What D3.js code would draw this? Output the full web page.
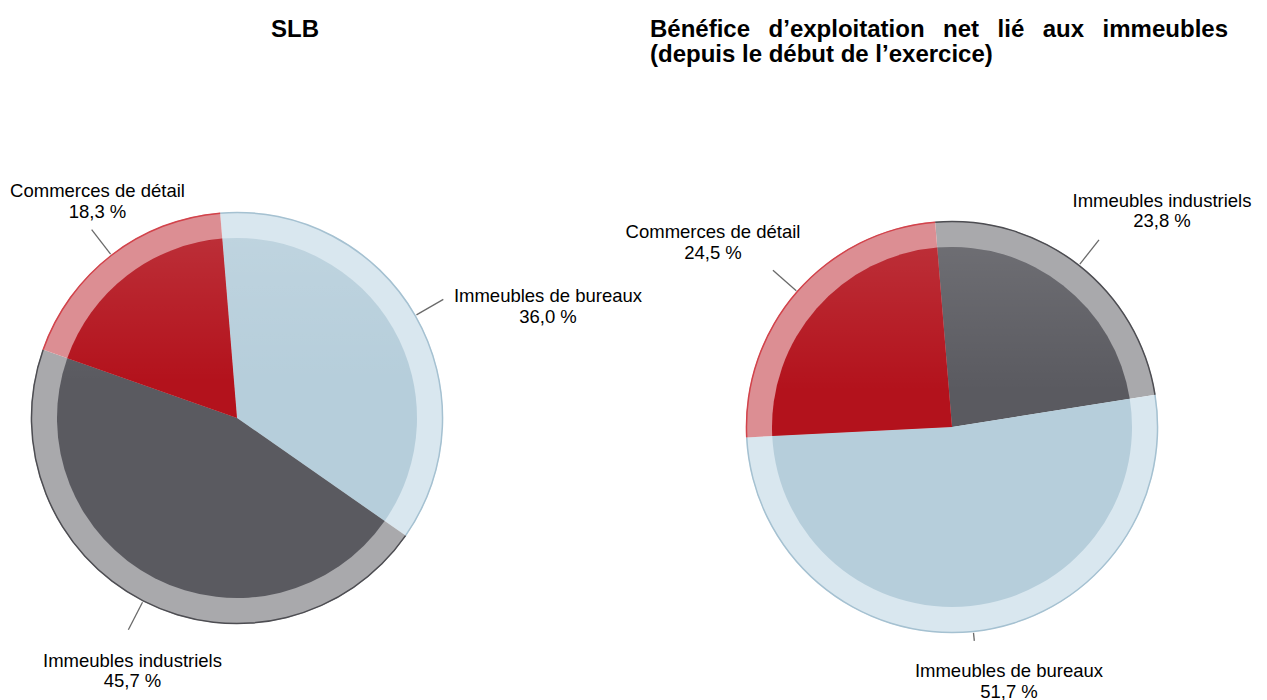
<!DOCTYPE html>
<html><head><meta charset="utf-8">
<script src="https://cdn.jsdelivr.net/npm/d3@7"></script>
<style>
body{margin:0;background:#fff}
text{font-family:"Liberation Sans",Arial,Helvetica,sans-serif;fill:#000}
</style>
</head><body>
<svg id="chart" width="1267" height="700"></svg>
<script>
// ---- data ----
const leftTitle = "SLB";
const rightTitleLines = ["Bénéfice d’exploitation net lié aux immeubles", "(depuis le début de l’exercice)"];

const leftCategories = ["Immeubles de bureaux", "Immeubles industriels", "Commerces de détail"];
const leftValues = [36.0, 45.7, 18.3];

const rightCategories = ["Immeubles industriels", "Immeubles de bureaux", "Commerces de détail"];
const rightValues = [23.8, 51.7, 24.5];

// ---- styles ----
const colors = {
  "Commerces de détail":   {main:"#b3121c", ring:"#dc8e93", edge:"#d2434b"},
  "Immeubles industriels": {main:"#5a5a60", ring:"#a9a9ac", edge:"#4d4d52"},
  "Immeubles de bureaux":  {main:"#b6cedb", ring:"#d9e7ef", edge:"#a5c1d1"}
};

const svg = d3.select("#chart");
const defs = svg.append("defs");
const gl = defs.append("linearGradient").attr("id","gloss").attr("x1",0).attr("y1",0).attr("x2",0).attr("y2",1);
gl.append("stop").attr("offset","0%").attr("stop-color","#fff").attr("stop-opacity",0.12);
gl.append("stop").attr("offset","40%").attr("stop-color","#fff").attr("stop-opacity",0);

const fmt = v => d3.format(".1f")(v).replace(".", ",") + " %";
const startDeg = -4.7;
const R = 206, Rin = 180;

function drawPie(cx, cy, cats, vals, labelPos, leaderLen) {
  const g = svg.append("g").attr("transform", `translate(${cx},${cy})`);
  const pie = d3.pie().sort(null).value(d => d.v)
    .startAngle(startDeg*Math.PI/180).endAngle(startDeg*Math.PI/180 + 2*Math.PI);
  const arcs = pie(cats.map((c,i)=>({c, v: vals[i], i})));
  const outer = d3.arc().innerRadius(0).outerRadius(R);
  const inner = d3.arc().innerRadius(0).outerRadius(Rin);
  const edge = d3.arc().innerRadius(R-1.2).outerRadius(R+0.3);
  g.selectAll("path.ring").data(arcs).join("path").attr("class","ring")
    .attr("d", outer).attr("fill", d => colors[d.data.c].ring);
  g.selectAll("path.edge").data(arcs).join("path").attr("class","edge")
    .attr("d", edge).attr("fill", d => colors[d.data.c].edge);
  g.selectAll("path.main").data(arcs).join("path").attr("class","main")
    .attr("d", inner).attr("fill", d => colors[d.data.c].main);
  g.append("circle").attr("r", Rin).attr("fill","url(#gloss)");

  arcs.forEach((d, k) => {
    const a = (d.startAngle + d.endAngle)/2;
    const r0 = R + 1, r1 = R + leaderLen[k];
    g.append("line")
      .attr("x1", r0*Math.sin(a)).attr("y1", -r0*Math.cos(a))
      .attr("x2", r1*Math.sin(a)).attr("y2", -r1*Math.cos(a))
      .attr("stroke","#6a6a6a").attr("stroke-width",1.3);
    const t = g.append("text").attr("text-anchor","middle").attr("font-size","18.5px")
      .attr("x", labelPos[k][0]).attr("y", labelPos[k][1]);
    t.append("tspan").attr("x", labelPos[k][0]).text(d.data.c);
    t.append("tspan").attr("x", labelPos[k][0]).attr("dy", 20.5).text(fmt(d.data.v));
  });
}

drawPie(237, 418, leftCategories, leftValues,
  [[311,-116],[-104.5,248.5],[-139.5,-221]], [32,32,32]);
drawPie(952, 427, rightCategories, rightValues,
  [[210,-220.5],[57,250],[-239,-189]], [32,9,32]);

// titles
svg.append("text").attr("x", 295).attr("y", 37).attr("text-anchor","middle")
  .attr("font-weight","bold").attr("font-size","24px").text(leftTitle);

const titleX = 650, titleW = 578;
rightTitleLines.forEach((line, i) => {
  const t = svg.append("text").attr("x", titleX).attr("y", 37 + i*25)
    .attr("font-weight","bold").attr("font-size","24px").text(line);
  if (i < rightTitleLines.length - 1) {
    const nat = t.node().getComputedTextLength();
    const spaces = (line.match(/ /g) || []).length;
    t.attr("word-spacing", (titleW - nat)/spaces);
  }
});
</script>
</body></html>
